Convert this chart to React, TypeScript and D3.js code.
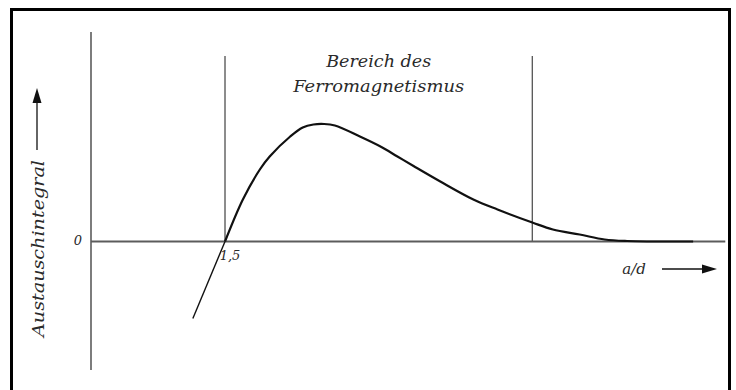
import React from "react";
import * as d3 from "d3";

// a/d values (x) and exchange integral (y)
const adValues = [1.14, 1.5, 1.70, 1.89, 2.0, 2.23, 2.37, 2.49, 2.61, 2.73, 3.01, 3.24, 3.43, 3.61, 3.91, 4.28, 4.55, 4.94, 5.17, 5.47, 5.75, 6.0, 6.74];
const exchangeValues = [-0.77, 0, 0.42, 0.72, 0.85, 1.05, 1.14, 1.17, 1.175, 1.16, 1.05, 0.95, 0.85, 0.755, 0.6, 0.42, 0.32, 0.19, 0.12, 0.07, 0.02, 0.005, 0.0];
const regionBounds = [1.5, 4.94];
const tickLabelsX = [{ v: 1.5, t: "1,5" }];
const tickLabelsY = [{ v: 0, t: "0" }];
const regionTitle = ["Bereich des", "Ferromagnetismus"];
const xTitle = "a/d";
const yTitle = "Austauschintegral";

const W = 736;
const H = 390;
const FONT = "'DejaVu Serif', serif";

export default function App() {
  const x = d3.scaleLinear().domain([0, 7.1]).range([91, 725.3]);
  const y = d3.scaleLinear().domain([-1.285, 2.095]).range([370, 32]);
  const pts: [number, number][] = adValues.map((a, i) => [a, exchangeValues[i]]);
  const line = d3
    .line<[number, number]>()
    .x((d) => x(d[0]))
    .y((d) => y(d[1]))
    .curve(d3.curveCatmullRom.alpha(0.5));
  const lower = pts.slice(0, 2);
  const upper = pts.slice(1);
  const axisColor = "#5c5c5c";
  const textColor = "#2a2a2a";
  const regionCenter = (x(regionBounds[0]) + x(regionBounds[1])) / 2;

  return (
    <svg width={W} height={H} style={{ position: "absolute", left: 0, top: 0, background: "#fff" }}>
      <rect x={0} y={0} width={W} height={H} fill="#fff" />
      {/* frame */}
      <line x1={11.5} y1={9.5} x2={730} y2={9.5} stroke="#000" strokeWidth={3} />
      <line x1={11.5} y1={8} x2={11.5} y2={H} stroke="#000" strokeWidth={3} />
      <line x1={729.5} y1={8} x2={729.5} y2={H} stroke="#000" strokeWidth={3} />

      {/* axes */}
      <line x1={x(0)} y1={y(-1.285)} x2={x(0)} y2={y(2.095)} stroke={axisColor} strokeWidth={1.6} />
      <line x1={x(0)} y1={y(0)} x2={x(7.1)} y2={y(0)} stroke={axisColor} strokeWidth={1.8} />

      {/* region bounds */}
      {regionBounds.map((b, i) => (
        <line key={i} x1={x(b)} y1={y(0)} x2={x(b)} y2={56} stroke={axisColor} strokeWidth={1.4} />
      ))}

      {/* curve */}
      <path d={line(lower) || ""} fill="none" stroke="#111" strokeWidth={1.4} />
      <path d={line(upper) || ""} fill="none" stroke="#111" strokeWidth={2.2} strokeLinejoin="round" />

      {/* region title */}
      <text x={regionCenter} y={67} textAnchor="middle" fontFamily={FONT} fontStyle="italic" fontSize={16} fill={textColor} textLength={105} lengthAdjust="spacingAndGlyphs">
        {regionTitle[0]}
      </text>
      <text x={regionCenter} y={92} textAnchor="middle" fontFamily={FONT} fontStyle="italic" fontSize={16} fill={textColor} textLength={171} lengthAdjust="spacingAndGlyphs">
        {regionTitle[1]}
      </text>

      {/* tick labels */}
      {tickLabelsY.map((t) => (
        <text key={t.t} x={78} y={y(t.v) + 3} textAnchor="middle" fontFamily={FONT} fontStyle="italic" fontSize={13} fill={textColor}>
          {t.t}
        </text>
      ))}
      {tickLabelsX.map((t) => (
        <text key={t.t} x={x(t.v) + 5} y={260} textAnchor="middle" fontFamily={FONT} fontStyle="italic" fontSize={13} fill={textColor}>
          {t.t}
        </text>
      ))}

      {/* x title with arrow */}
      <text x={634} y={274} textAnchor="middle" fontFamily={FONT} fontStyle="italic" fontSize={15} fill={textColor}>
        {xTitle}
      </text>
      <line x1={662} y1={269} x2={705} y2={269} stroke="#111" strokeWidth={1.3} />
      <path d="M717,269 L702,264.5 L702,273.5 Z" fill="#111" />

      {/* y title with arrow */}
      <text transform="translate(38,248.5) rotate(-90)" textAnchor="middle" dy="0.35em" fontFamily={FONT} fontStyle="italic" fontSize={16} fill={textColor} textLength={177} lengthAdjust="spacingAndGlyphs">
        {yTitle}
      </text>
      <line x1={37} y1={150} x2={37} y2={100} stroke="#111" strokeWidth={1.3} />
      <path d="M37,88 L32.5,103 L41.5,103 Z" fill="#111" />
    </svg>
  );
}
